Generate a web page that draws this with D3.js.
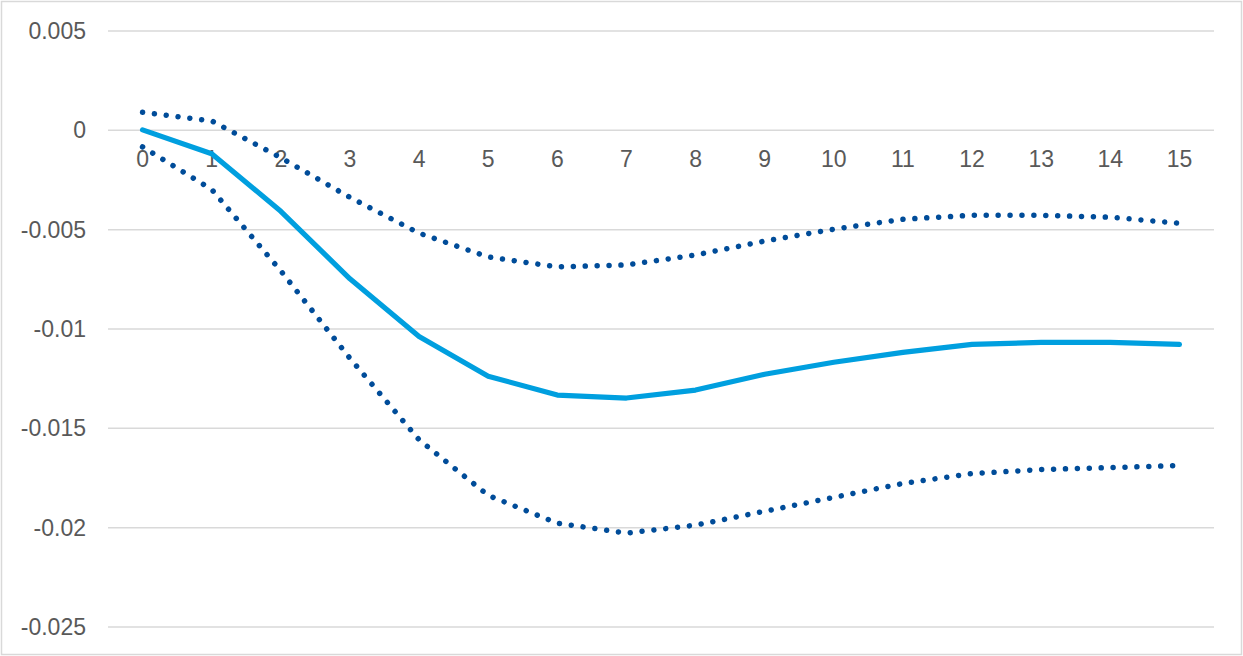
<!DOCTYPE html>
<html>
<head>
<meta charset="utf-8">
<script src="https://cdn.jsdelivr.net/npm/d3@7"></script>
<style>
  html, body { margin: 0; padding: 0; background: #fff; }
  svg { display: block; }
  text { font-family: "Liberation Sans", Arial, sans-serif; fill: #595959; }
</style>
</head>
<body>
<svg id="chart" width="1243" height="656"></svg>
<script>
// Horizon (periods) on the category axis
const periods = [0, 1, 2, 3, 4, 5, 6, 7, 8, 9, 10, 11, 12, 13, 14, 15];

// Point estimate of the response
const response = [0, -0.0012, -0.0041, -0.0075, -0.0104, -0.0124, -0.01335, -0.0135,
                  -0.0131, -0.0123, -0.0117, -0.0112, -0.0108, -0.0107, -0.0107, -0.0108];

// Upper and lower confidence bounds
const upperBand = [0.00088, 0.00045, -0.0014, -0.0034, -0.0052, -0.0064, -0.0069, -0.0068,
                   -0.0063, -0.0056, -0.0050, -0.0045, -0.0043, -0.0043, -0.0044, -0.0047];
const lowerBand = [-0.00086, -0.0030, -0.0071, -0.0115, -0.0156, -0.0184, -0.0198, -0.0203,
                   -0.0199, -0.0192, -0.0185, -0.0178, -0.0173, -0.0171, -0.0170, -0.0169];

// Value-axis ticks
const yTicks = [0.005, 0, -0.005, -0.01, -0.015, -0.02, -0.025];
const yTickLabels = ["0.005", "0", "-0.005", "-0.01", "-0.015", "-0.02", "-0.025"];

const svg = d3.select("#chart");
const W = 1243, H = 656;
const plot = { left: 108, right: 1214, top: 30.5, bottom: 626.5 };

// Outer chart frame
svg.append("rect")
  .attr("x", 1.5).attr("y", 1.5)
  .attr("width", W - 3).attr("height", H - 3)
  .attr("fill", "#fff")
  .attr("stroke", "#d9d9d9")
  .attr("stroke-width", 1.5);

const x = d3.scaleBand()
  .domain(periods)
  .range([plot.left, plot.right]);

const y = d3.scaleLinear()
  .domain([-0.025, 0.005])
  .range([plot.bottom, plot.top]);

const cx = d => x(d) + x.bandwidth() / 2;

// Horizontal gridlines
const yAxis = d3.axisLeft(y)
  .tickValues(yTicks)
  .tickSize(-(plot.right - plot.left))
  .tickPadding(22)
  .tickFormat((d, i) => yTickLabels[i]);

const gy = svg.append("g")
  .attr("transform", `translate(${plot.left},0)`)
  .call(yAxis);
gy.select(".domain").remove();
gy.selectAll(".tick line").attr("stroke", "#d9d9d9").attr("stroke-width", 1.5);
gy.selectAll(".tick text")
  .attr("font-size", 23)
  .attr("fill", "#595959")
  .attr("x", 86 - plot.left)
  .attr("dy", "0.35em");

// Category labels sit just under the zero line
const xAxis = d3.axisBottom(x).tickSize(0).tickPadding(0);
const gx = svg.append("g")
  .attr("transform", `translate(0,${y(0)})`)
  .call(xAxis);
gx.select(".domain").remove();
gx.selectAll(".tick text")
  .attr("font-size", 23)
  .attr("fill", "#595959")
  .attr("y", 37)
  .attr("dy", 0);

const line = d3.line()
  .x((d, i) => cx(periods[i]))
  .y(d => y(d));

// Confidence bounds: round dotted lines
[upperBand, lowerBand].forEach(series => {
  svg.append("path")
    .datum(series)
    .attr("d", line)
    .attr("fill", "none")
    .attr("stroke", "#004C99")
    .attr("stroke-width", 5.5)
    .attr("stroke-linecap", "round")
    .attr("stroke-dasharray", "0.01 11.9");
});

// Point estimate: solid line
svg.append("path")
  .datum(response)
  .attr("d", line)
  .attr("fill", "none")
  .attr("stroke", "#009FDF")
  .attr("stroke-width", 5.2)
  .attr("stroke-linejoin", "round")
  .attr("stroke-linecap", "round");
</script>
</body>
</html>
